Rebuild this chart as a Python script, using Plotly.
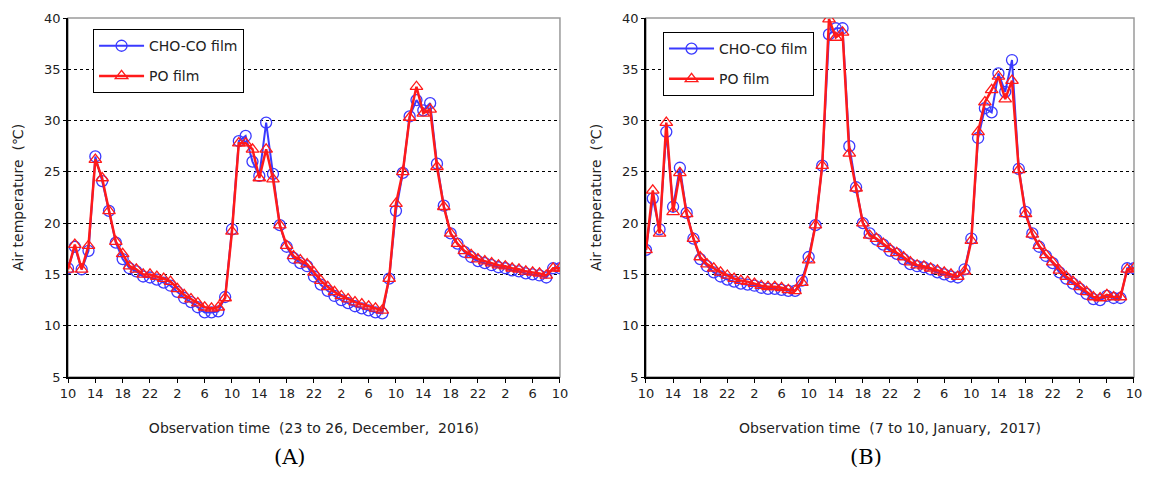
import plotly.graph_objects as go

# hours since 10:00 on the first day (hourly observations, 3 days)
hours = list(range(73))
tick_hours = list(range(0, 73, 4))
tick_labels = ["10", "14", "18", "22", "2", "6", "10", "14", "18", "22", "2", "6", "10", "14", "18", "22", "2", "6", "10"]

# Panel A: 23 to 26 December 2016
a_choco = [15.6, 17.7, 15.5, 17.3, 26.5, 24.1, 21.2, 18.1, 16.5, 15.6, 15.3, 14.8, 14.7, 14.5, 14.2, 13.9,
           13.3, 12.7, 12.3, 11.8, 11.3, 11.3, 11.4, 12.8, 19.4, 28.0, 28.5, 26.0, 24.6, 29.8, 24.8, 19.8,
           17.7, 16.6, 16.1, 15.8, 14.8, 14.0, 13.4, 12.9, 12.5, 12.2, 11.9, 11.7, 11.5, 11.3, 11.2, 14.6,
           21.2, 24.9, 30.4, 32.0, 31.0, 31.7, 25.8, 21.7, 19.0, 18.0, 17.2, 16.7, 16.3, 16.1, 15.9, 15.7,
           15.6, 15.4, 15.3, 15.1, 15.0, 14.9, 14.7, 15.6, 15.6]
a_po = [15.5, 17.9, 15.5, 17.8, 26.2, 24.4, 21.2, 18.2, 17.0, 15.8, 15.5, 15.0, 15.0, 14.8, 14.6, 14.3,
        13.6, 13.0, 12.6, 12.2, 11.8, 11.7, 11.8, 12.7, 19.2, 27.8, 27.8, 27.2, 24.4, 27.2, 24.3, 19.8,
        17.8, 16.8, 16.4, 16.0, 15.2, 14.4, 13.8, 13.3, 12.9, 12.6, 12.3, 12.1, 11.9, 11.7, 11.5, 14.6,
        21.9, 25.0, 30.3, 33.3, 30.7, 31.1, 25.5, 21.6, 19.0, 18.0, 17.3, 16.9, 16.5, 16.3, 16.1, 15.9,
        15.8, 15.6, 15.5, 15.3, 15.2, 15.1, 14.9, 15.6, 15.6]

# Panel B: 7 to 10 January 2017
b_choco = [17.4, 22.4, 19.4, 28.9, 21.6, 25.4, 21.0, 18.5, 16.5, 15.8, 15.2, 14.8, 14.5, 14.3, 14.1, 14.0,
           13.9, 13.7, 13.6, 13.6, 13.5, 13.4, 13.4, 14.4, 16.7, 19.8, 25.6, 38.4, 39.0, 39.0, 27.5, 23.5,
           20.0, 19.0, 18.4, 17.9, 17.3, 17.0, 16.5, 16.0, 15.8, 15.7, 15.5, 15.2, 15.0, 14.8, 14.7, 15.5,
           18.5, 28.3, 31.2, 30.8, 34.6, 32.8, 35.9, 25.3, 21.1, 19.0, 17.7, 16.8, 16.1, 15.2, 14.6, 14.1,
           13.6, 13.1, 12.6, 12.5, 12.9, 12.7, 12.7, 15.6, 15.6]
b_po = [17.4, 23.2, 19.0, 29.8, 21.1, 24.9, 20.9, 18.5, 16.7, 16.0, 15.6, 15.2, 14.9, 14.6, 14.4, 14.3,
        14.1, 13.9, 13.8, 13.8, 13.7, 13.5, 13.4, 14.2, 16.4, 19.8, 25.6, 39.9, 38.1, 38.6, 26.8, 23.4,
        20.0, 18.8, 18.5, 18.0, 17.5, 17.1, 16.7, 16.2, 15.9, 15.8, 15.6, 15.4, 15.2, 15.0, 14.8, 15.3,
        18.3, 28.9, 31.8, 33.0, 34.3, 32.1, 33.9, 25.2, 20.9, 18.9, 17.8, 16.9, 16.2, 15.4, 14.8, 14.3,
        13.8, 13.3, 12.8, 12.7, 13.0, 12.8, 12.8, 15.5, 15.6]

y_ticks = [5, 10, 15, 20, 25, 30, 35, 40]
series_names = ["CHO-CO film", "PO film"]
x_titles = ["Observation time  (23 to 26, December,  2016)", "Observation time  (7 to 10, January,  2017)"]
y_title = "Air temperature  (\u2103)"
panel_labels = ["(A)", "(B)"]

BLUE = "#3a3aff"
RED = "#ff1a1a"
FONT = "DejaVu Sans"

fig = go.Figure()

panels = [(a_choco, a_po, "x", "y", "legend"), (b_choco, b_po, "x2", "y2", "legend2")]
for choco, po, xa, ya, lg in panels:
    fig.add_trace(go.Scatter(
        x=hours, y=choco, name=series_names[0], xaxis=xa, yaxis=ya, legend=lg,
        legendgroup=lg + "c", mode="lines+markers",
        line=dict(color=BLUE, width=2),
        marker=dict(symbol="circle-open", size=11, color=BLUE, line=dict(width=1.3)),
    ))
    fig.add_trace(go.Scatter(
        x=hours, y=po, name=series_names[1], xaxis=xa, yaxis=ya, legend=lg,
        legendgroup=lg + "p", mode="lines+markers",
        line=dict(color=RED, width=2.5),
        marker=dict(symbol="triangle-up-open", size=11, color=RED, line=dict(width=1.3)),
    ))

xaxis_common = dict(
    range=[0, 72], tickmode="array", tickvals=tick_hours, ticktext=tick_labels,
    showgrid=False, zeroline=False, showline=True, linecolor="black", linewidth=1.5,
    ticks="outside", ticklen=4, tickcolor="black", automargin=False,
    ticklabeloverflow="allow",
    tickfont=dict(family=FONT, size=13, color="#222"),
    title=dict(font=dict(family=FONT, size=14, color="#222"), standoff=23),
)
yaxis_common = dict(
    range=[5, 40], tickmode="array", tickvals=y_ticks,
    showgrid=True, gridcolor="black", griddash="dot", gridwidth=1,
    zeroline=False, showline=True, linecolor="black", linewidth=1.5,
    ticks="outside", ticklen=3, tickcolor="black", automargin=False,
    tickfont=dict(family=FONT, size=13, color="#222"),
    title=dict(text=y_title, font=dict(family=FONT, size=14, color="#222"), standoff=17),
)

legend_common = dict(xanchor="left", yanchor="top", bordercolor="black", borderwidth=1,
                     bgcolor="white", font=dict(family=FONT, size=14, color="#222"),
                     itemwidth=45, tracegroupgap=9)

# the page body adds an 8px offset; the figure is sized to fit inside it
fig.update_layout(
    width=1135, height=464,
    margin=dict(l=60, r=9, t=10, b=95),
    paper_bgcolor="white", plot_bgcolor="white",
    showlegend=True,
    xaxis=dict(xaxis_common, domain=[0, 0.4615], anchor="y", title_text=x_titles[0]),
    yaxis=dict(yaxis_common, domain=[0, 1], anchor="x"),
    xaxis2=dict(xaxis_common, domain=[0.5422, 1], anchor="y2", title_text=x_titles[1]),
    yaxis2=dict(yaxis_common, domain=[0, 1], anchor="x2"),
    legend=dict(legend_common, x=0.0235, y=0.969),
    legend2=dict(legend_common, x=0.5582, y=0.961),
)

# gray top/right border of each plot area
for xr, yr in [("x domain", "y domain"), ("x2 domain", "y2 domain")]:
    fig.add_shape(type="rect", xref=xr, yref=yr, x0=0, x1=1, y0=0, y1=1,
                  line=dict(color="#9a9a9a", width=1.5), layer="below")

# panel labels
for i, lab in enumerate(panel_labels):
    fig.add_annotation(text=lab, xref="x" if i == 0 else "x2", yref="paper",
                       x=32.5, y=-0.262, yanchor="bottom", showarrow=False,
                       font=dict(family="DejaVu Serif", size=21, color="black"))

fig.write_html("out.html")
